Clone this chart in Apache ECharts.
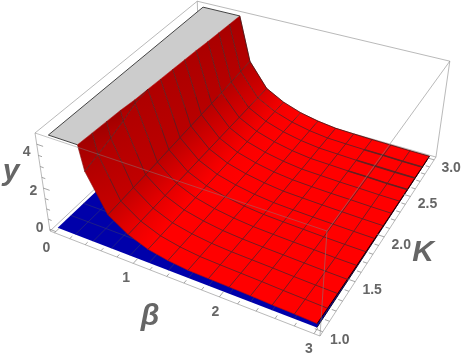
<!DOCTYPE html>
<html><head><meta charset="utf-8">
<style>html,body{margin:0;padding:0;background:#fff}#c{width:463px;height:358px}</style>
<script src="https://cdn.jsdelivr.net/npm/echarts@6/dist/echarts.min.js"></script>
</head><body><div id="c"></div>
<script>
// ---- data ----
const kValues = [1,1.1538,1.3077,1.4615,1.6154,1.7692,1.9231,2.0769,2.2308,2.3846,2.5385,2.6923,2.8462,3];
const betaMesh = [0.4615,0.6923,0.9231,1.1538,1.3846,1.6154,1.8462,2.0769,2.3077,2.5385,2.7692,3];
const betaBaseMesh = [0.2308,0.4615,0.6923,0.9231,1.1538,1.3846,1.6154,1.8462,2.0769,2.3077,2.5385,2.7692];
const yClipTop = 4.4;
const betaPlateStart = 0.055;
const betaAtClip = [.41,.42,.43,.44,.46,.47,.48,.49,.50,.51,.525,.535,.545,.555];
const yB0462 = [3.3,3.5,3.7,3.95,4.25,4.6,4.8,5.0,5.2,5.4,5.6,5.8,6.0,6.2];
const yB0692 = [1.62,1.66,1.71,1.75,1.80,1.85,1.90,1.95,2.00,2.05,2.11,2.17,2.24,2.30];
const yB0923 = [1.02,1.03,1.04,1.05,1.06,1.07,1.08,1.09,1.10,1.11,1.12,1.13,1.14,1.15];
const yB1154 = [.66,.66,.66,.67,.67,.67,.67,.67,.67,.67,.68,.68,.68,.68];
const yB1385 = [.48,.47,.46,.46,.45,.44,.44,.43,.42,.41,.41,.40,.39,.38];
const yB1615 = [.38,.36,.34,.32,.31,.29,.28,.27,.25,.24,.23,.22,.21,.20];
const yB1846 = [.35,.32,.28,.25,.22,.20,.18,.16,.15,.13,.12,.11,.10,.09];
const yB2077 = [.33,.29,.25,.21,.18,.16,.14,.13,.11,.10,.09,.08,.07,.06];
const yB2308 = [.30,.26,.22,.18,.15,.13,.11,.10,.08,.07,.06,.05,.05,.04];
const yB2538 = [.26,.22,.18,.15,.12,.10,.09,.08,.07,.06,.05,.04,.04,.03];
const yB2769 = [.23,.19,.15,.12,.09,.08,.07,.06,.05,.04,.03,.03,.02,.02];
const yB3000 = [.19,.16,.13,.10,.08,.07,.06,.05,.04,.04,.03,.03,.02,.02];
const betaTicks = [0,1,2,3];
const kTicks = [1,1.5,2,2.5,3];
const yTicks = [0,2,4];

// ---- view: camera of the 3D box, in page pixels ----
const RANGE = {b:[-0.06,3.06], k:[0.96,3.04], y:[-0.09,4.49]};
const CAM = {x:[50,227.1,192,-17.52], y:[231,60,-122,-107.6], w:[1,-0.134,0.21,-0.0721]};
function project(b,k,y){
  const u=(b-RANGE.b[0])/(RANGE.b[1]-RANGE.b[0]), v=(k-RANGE.k[0])/(RANGE.k[1]-RANGE.k[0]), t=(y-RANGE.y[0])/(RANGE.y[1]-RANGE.y[0]);
  const f=a=>a[0]+a[1]*u+a[2]*v+a[3]*t, w=f(CAM.w);
  return [f(CAM.x)/w,f(CAM.y)/w];
}
const GREY='#666666', FONT='"Liberation Sans",Arial,sans-serif';
const surfaceCols = [yB0462,yB0692,yB0923,yB1154,yB1385,yB1615,yB1846,yB2077,yB2308,yB2538,yB2769,yB3000];
const nR = kValues.length, nC = betaMesh.length+1;
const clipNode=r=>[betaAtClip[r],kValues[r],yClipTop];
const node=(r,c)=>{
  if(c===0) return clipNode(r);
  const y=surfaceCols[c-1][r];
  return y>=yClipTop ? clipNode(r) : [betaMesh[c-1],kValues[r],y];
};
function shade(r,c){
  const a=node(r,Math.max(c-1,0)), b=node(r,Math.min(c+1,nC-1));
  const d=b[0]-a[0];
  const s=d>0?Math.abs((b[2]-a[2])/d):12;
  const cosv=1/Math.sqrt(1+s*s);
  const R=Math.min(255,Math.round(125+165*Math.pow(cosv,0.5)));
  return `rgb(${R},0,0)`;
}
function polyS(items){return{type:'custom',coordinateSystem:'cartesian2d',silent:true,animation:false,clip:false,
  data:items.map((_,i)=>[i]),
  renderItem(p,api){
    const it=items[p.dataIndex];
    const pts=it.pts.map(q=>api.coord(project(q[0],q[1],q[2])));
    if(it.line) return {type:'polyline',shape:{points:pts},style:{stroke:it.line,lineWidth:it.w||1,fill:null}};
    let fill=it.fill, stroke=it.stroke;
    if(it.grad){
      const a=api.coord(project.apply(null,it.grad[0])), b=api.coord(project.apply(null,it.grad[1]));
      fill=new echarts.graphic.LinearGradient(a[0],a[1],b[0],b[1],[{offset:0,color:it.grad[2]},{offset:1,color:it.grad[3]}],true);
      stroke=fill;
    }
    return {type:'polygon',shape:{points:pts},style:{fill,stroke:stroke||null,lineWidth:it.sw||0}};
  }};}
function textS(items){return{type:'custom',coordinateSystem:'cartesian2d',silent:true,animation:false,clip:false,
  data:items.map((_,i)=>[i]),
  renderItem(p,api){
    const it=items[p.dataIndex];
    const c=api.coord(it.at?it.at:project(it.p[0],it.p[1],it.p[2]));
    return {type:'text',x:c[0]+(it.dx||0),y:c[1]+(it.dy||0),style:{text:it.t,font:it.font,fill:GREY,align:'center',verticalAlign:'middle'}};
  }};}

const [b0,b1]=RANGE.b,[k0,k1]=RANGE.k,[y0,y1]=RANGE.y;
const BOX='rgba(130,130,130,0.7)';
const L=(a,b,col,w)=>({pts:[a,b],line:col||BOX,w:w||0.8});
// back box edges
const backBox=[L([b0,k1,y0],[b0,k1,y1]),L([b0,k0,y0],[b0,k1,y0]),L([b0,k1,y0],[b1,k1,y0]),L([b0,k1,y1],[b1,k1,y1]),L([b0,k0,y1],[b0,k1,y1]),L([b1,k1,y0],[b1,k1,y1]),L([b0,k0,y0],[b0,k0,y1])];
// base plane
const basePoly=[{pts:[[0,1,0],[3,1,0],[3,3,0],[0,3,0]],fill:'#0000aa'}];
const baseMesh=[];
const BM='rgba(50,50,110,0.75)';
betaBaseMesh.forEach(b=>baseMesh.push(L([b,1,0],[b,3,0],BM,0.8)));
kValues.slice(1,-1).forEach(k=>baseMesh.push(L([0,k,0],[3,k,0],BM,0.8)));
baseMesh.push(L([3,1,0],[3,3,0],'#101030',1));
// clipped top plate
const platePts=[[betaPlateStart,1,yClipTop],[betaPlateStart,3,yClipTop]];
for(let r=nR-1;r>=0;r--)platePts.push(clipNode(r));
const plate=[{pts:platePts,fill:'#cccccc'},{pts:[clipNode(0),[betaPlateStart,1,yClipTop],[betaPlateStart,3,yClipTop],clipNode(nR-1)],line:'#444444',w:1}];
// surface faces, far to near
const faces=[];
for(let r=nR-2;r>=0;r--)for(let c=0;c<nC-1;c++){
  const A=node(r,c),B=node(r,c+1),C=node(r+1,c+1),D=node(r+1,c);
  const mid=(p,q)=>[(p[0]+q[0])/2,(p[1]+q[1])/2,(p[2]+q[2])/2];
  faces.push({pts:[A,B,C,D],grad:[mid(A,D),mid(B,C),shade(r,c),shade(r,c+1)],sw:0.5});
}
// mesh on the surface
const MESH='rgba(70,38,38,0.78)';
const mesh=[];
for(let r=1;r<nR-1;r++){const pts=[];for(let c=0;c<nC;c++)pts.push(node(r,c));mesh.push({pts,line:MESH,w:0.9});}
for(let c=0;c<nC-1;c++){
  if(c===0){const pts=[];for(let r=0;r<nR;r++)if(surfaceCols[0][r]<yClipTop)pts.push(node(r,1));pts.push(node(5,1));mesh.push({pts,line:MESH,w:0.9});continue;}
  if(c===1)continue;
  const pts=[];for(let r=0;r<nR;r++)pts.push(node(r,c));mesh.push({pts,line:MESH,w:0.9});
}
{const top=[];for(let c=0;c<nC;c++)top.push(node(nR-1,c));mesh.push({pts:top,line:'rgba(50,20,20,0.85)',w:0.9});
 const right=[];for(let r=0;r<nR;r++)right.push(node(r,nC-1));mesh.push({pts:right,line:'#200000',w:1});
 const front=[];for(let c=0;c<nC;c++)front.push(node(0,c));mesh.push({pts:front,line:'rgba(70,20,20,0.4)',w:0.6});}
// heavier lines where the surface touches the base near the far corner
for(let r=10;r<nR-1;r++)mesh.push({pts:[node(r,nC-4),node(r,nC-3),node(r,nC-2),node(r,nC-1)],line:'rgba(90,35,35,0.85)',w:1.6});
// front box edges, ticks
const frontBox=[L([b0,k0,y1],[b1,k0,y1],'rgba(130,130,130,0.6)'),L([b1,k0,y1],[b1,k1,y1]),L([b1,k0,y0],[b1,k0,y1]),L([b0,k0,y0],[b1,k0,y0]),L([b1,k0,y0],[b1,k1,y0])];
const TICK='rgba(130,130,130,0.9)';
for(let i=0;i<=15;i++){const v=i*0.2,l=i%5===0?0.055:0.03;frontBox.push(L([v,k0,y0],[v,k0+l,y0],TICK,0.8));}
for(let i=0;i<=20;i++){const v=1+i*0.1,l=i%5===0?0.08:0.045;frontBox.push(L([b1,v,y0],[b1-l,v,y0],TICK,0.8));}
for(let i=0;i<=8;i++){const v=i*0.5,l=i%4===0?0.08:0.045;frontBox.push(L([b0,k0,v],[b0+l,k0,v],TICK,0.8));}
// labels
const F12='bold 14px '+FONT, FT='italic bold 30px '+FONT;
const labels=[];
const dxB={0:-8,1:-7,2:-4,3:-5}, dyY={0:-1,2:3,4:8};
betaTicks.forEach(b=>labels.push({t:String(b),p:[b,k0,y0],dx:dxB[b],dy:15,font:F12}));
kTicks.forEach(k=>labels.push({t:k.toFixed(1),p:[b1,k,y0],dx:17,dy:8,font:F12}));
yTicks.forEach(y=>labels.push({t:String(y),p:[b0,k0,y],dx:-10,dy:dyY[y],font:F12}));
labels.push({t:'β',at:[150,317],font:FT},{t:'K',at:[423,253],font:FT},{t:'y',at:[11,172],font:FT});

const chart=echarts.init(document.getElementById('c'),null,{renderer:'canvas'});
chart.setOption({
  animation:false,backgroundColor:'#fff',
  grid:{left:0,right:0,top:0,bottom:0},
  xAxis:{type:'value',min:0,max:463,show:false},
  yAxis:{type:'value',min:0,max:358,inverse:true,show:false},
  series:[polyS(backBox),polyS(basePoly),polyS(baseMesh),polyS(plate),polyS(faces),polyS(mesh),polyS(frontBox),textS(labels)]
});
</script></body></html>
